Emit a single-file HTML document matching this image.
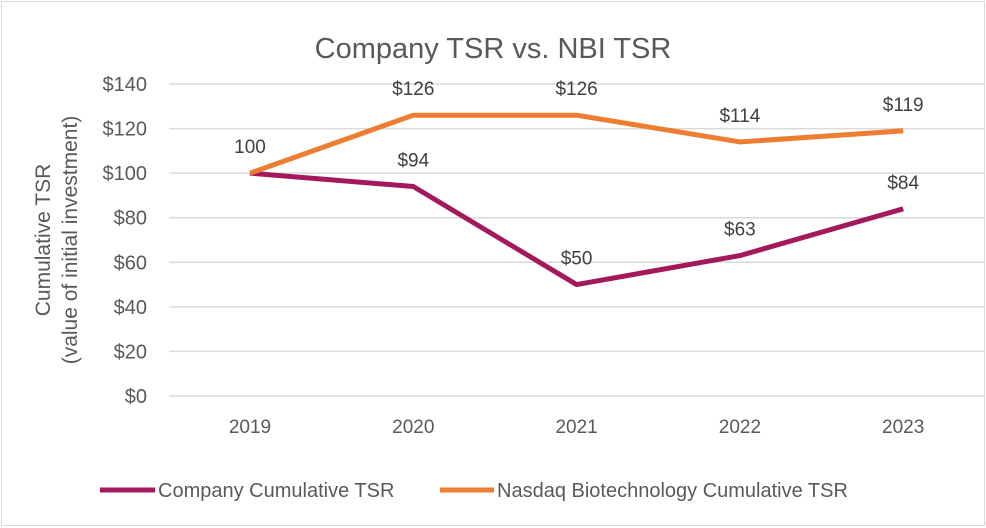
<!DOCTYPE html>
<html><head><meta charset="utf-8"><style>
body{margin:0;background:#fff}
svg{display:block;font-family:"Liberation Sans",Calibri,sans-serif}
</style></head><body>
<svg width="986" height="528">
<rect x="1.5" y="1.5" width="983" height="524" fill="#fff" stroke="#d9d9d9"/>
<text x="493" y="58" text-anchor="middle" font-size="29" fill="#595959">Company TSR vs. NBI TSR</text>
<g id="grid"></g><g id="yt"></g><g id="xt"></g><g id="lines"></g><g id="labels"></g>
<text transform="translate(54,240) rotate(-90)" text-anchor="middle" font-size="21" fill="#595959"><tspan x="0" dy="-4">Cumulative TSR</tspan><tspan x="0" dy="27">(value of initial investment)</tspan></text>
<line x1="100" y1="490" x2="155" y2="490" stroke="#a3195b" stroke-width="5"/>
<text x="158" y="497" font-size="20" fill="#595959">Company Cumulative TSR</text>
<line x1="440" y1="490" x2="494" y2="490" stroke="#ed7d31" stroke-width="5"/>
<text x="497" y="497" font-size="20" fill="#595959">Nasdaq Biotechnology Cumulative TSR</text>
</svg>
<script>
const categories=["2019","2020","2021","2022","2023"];
const company=[100,94,50,63,84];
const nbi=[100,126,126,114,119];
const companyLabels=["","$94","$50","$63","$84"];
const nbiLabels=["100","$126","$126","$114","$119"];
const yTicks=[0,20,40,60,80,100,120,140];
const NS="http://www.w3.org/2000/svg";
const x=i=>250+i*163.3;
const y=v=>396-v*(312/140);
function mk(tag,attrs,parent){const e=document.createElementNS(NS,tag);for(const k in attrs)e.setAttribute(k,attrs[k]);document.getElementById(parent).appendChild(e);return e;}
yTicks.forEach(t=>{
 const g=mk('line',{x1:169,x2:985,y1:y(t),y2:y(t),stroke:'#d9d9d9','stroke-width':1.5},'grid');
 
 
 const l=mk('text',{x:147,y:y(t)+7,'text-anchor':'end','font-size':20,fill:'#595959'},'yt');
 l.textContent='$'+t;
 
 
});
categories.forEach((c,i)=>{
 const l=mk('text',{x:x(i),y:433,'text-anchor':'middle','font-size':19,fill:'#595959'},'xt');
 l.textContent=c;
 
 
});
function series(vals,color,name,labels){
 const p=mk('polyline',{points:vals.map((v,i)=>x(i)+','+y(v)).join(' '),fill:'none',stroke:color,'stroke-width':5,'stroke-linejoin':'round'},'lines');
 
 
 vals.forEach((v,i)=>{if(!labels[i])return;
  const t=mk('text',{x:x(i),y:y(v)-20,'text-anchor':'middle','font-size':19,fill:'#404040'},'labels');
  t.textContent=labels[i];
  
  
 });
}
series(company,'#a3195b','company-line',companyLabels);
series(nbi,'#ed7d31','nbi-line',nbiLabels);
</script>
</body></html>
